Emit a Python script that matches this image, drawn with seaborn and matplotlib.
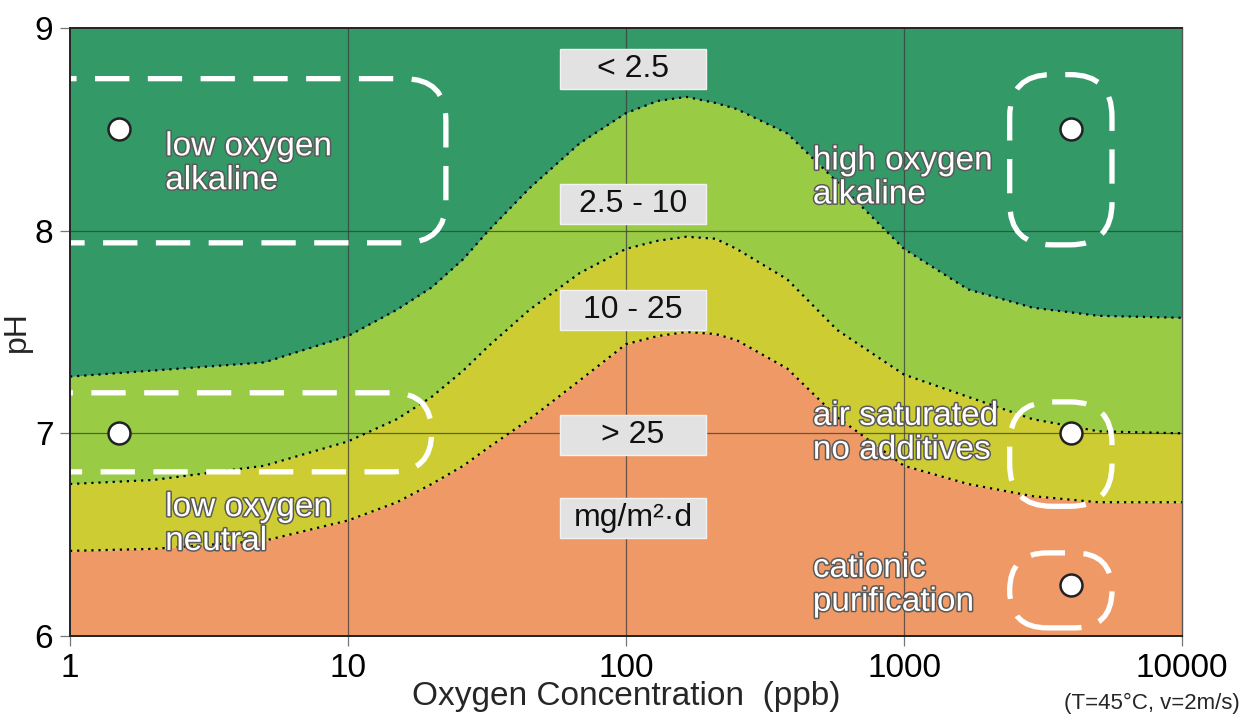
import matplotlib
matplotlib.use("Agg")
import matplotlib.pyplot as plt
import matplotlib.patheffects as pe
from matplotlib.patches import FancyBboxPatch, Rectangle
from matplotlib.transforms import IdentityTransform
from matplotlib.ticker import FixedLocator, NullLocator
import seaborn as sns

# Corrosion-rate zone boundaries (pH) versus oxygen concentration (ppb)
oxygen_ppb = [1, 2, 5, 10, 15, 20, 26, 32, 45, 68, 100, 130, 165, 210, 250, 380,
              575, 1000, 1700, 2900, 5000, 10000]
ph_low_rate = [7.28, 7.31, 7.35, 7.48, 7.61, 7.72, 7.86, 8.00, 8.21, 8.43, 8.58,
               8.64, 8.66, 8.63, 8.60, 8.48, 8.24, 7.91, 7.71, 7.62, 7.58, 7.57]
ph_mid_rate = [6.75, 6.77, 6.84, 6.96, 7.07, 7.18, 7.31, 7.43, 7.61, 7.79, 7.91,
               7.95, 7.97, 7.96, 7.91, 7.76, 7.51, 7.29, 7.18, 7.07, 7.01, 7.00]
ph_high_rate = [6.42, 6.43, 6.47, 6.57, 6.66, 6.75, 6.84, 6.93, 7.07, 7.26, 7.44,
                7.48, 7.50, 7.49, 7.46, 7.32, 7.08, 6.84, 6.75, 6.69, 6.66, 6.66]

zone_colors = ["#ef9966", "#cdcd33", "#99cc44", "#339966"]
rate_labels = ["< 2.5", "2.5 - 10", "10 - 25", "> 25", "mg/m²·d"]
rate_label_ph = [8.80, 8.13, 7.61, 6.99, 6.58]

# Operating regimes
regime_names = ["low oxygen\nalkaline", "low oxygen\nneutral", "high oxygen\nalkaline",
                "air saturated\nno additives", "cationic\npurification"]
regime_ppb = [1.5, 1.5, 4000, 4000, 4000]
regime_ph = [8.5, 7.0, 8.5, 7.0, 6.25]

x_ticks = [1, 10, 100, 1000, 10000]
y_ticks = [6, 7, 8, 9]

sns.set_theme(style="white")
plt.rcParams["font.family"] = ["Liberation Sans", "DejaVu Sans"]

fig = plt.figure(figsize=(12.48, 7.16), dpi=100)
ax = fig.add_axes([70 / 1248, 80 / 716, 1112 / 1248, 608 / 716])
ax.set_xscale("log")
ax.set_xlim(1, 10000)
ax.set_ylim(6, 9)

# filled zones
lower = [6] * len(oxygen_ppb)
upper = [9] * len(oxygen_ppb)
bands = [lower, ph_high_rate, ph_mid_rate, ph_low_rate, upper]
for i, c in enumerate(zone_colors):
    ax.fill_between(oxygen_ppb, bands[i], bands[i + 1], color=c, lw=0, zorder=1)

# grid
for xv in x_ticks[1:-1]:
    ax.axvline(xv, color="#3a3a3a", lw=0.9, alpha=0.75, zorder=2)
for yv in y_ticks[1:-1]:
    ax.axhline(yv, color="#3a3a3a", lw=0.9, alpha=0.75, zorder=2)

# dotted zone boundaries
for b in (ph_low_rate, ph_mid_rate, ph_high_rate):
    sns.lineplot(x=oxygen_ppb, y=b, ax=ax, color="black", lw=1.6,
                 linestyle=(0, (1, 2.2)), zorder=3)

# rate class labels
box_x0 = (560 - 70) / 1112
box_w = 146 / 1112
for lab, yv in zip(rate_labels, rate_label_ph):
    yf = (yv - 6) / 3
    ax.add_patch(Rectangle((box_x0, yf - 20 / 608), box_w, 40 / 608,
                           transform=ax.transAxes, facecolor="#e2e2e2",
                           edgecolor="#f2f2f2", lw=1, zorder=4))
    ax.text(box_x0 + box_w / 2, yf, lab, transform=ax.transAxes, ha="center",
            va="center", fontsize=23, color="#111111", zorder=5)

# dashed regime outlines (ppb_left, ppb_right, ph_bottom, ph_top)
outlines = [(0.6, 22.5, 7.94, 8.75), (0.6, 20, 6.81, 7.20),
            (2400, 5600, 7.93, 8.77), (2400, 5600, 6.64, 7.155),
            (2400, 5600, 6.04, 6.41)]
for x0, x1, y0, y1 in outlines:
    (px0, py0), (px1, py1) = ax.transData.transform([(x0, y0), (x1, y1)])
    w, h = px1 - px0, py1 - py0
    r = min(42, w / 2, h / 2)
    patch = FancyBboxPatch((px0, py0), w, h,
                           boxstyle=f"round,pad=0,rounding_size={r}",
                           transform=IdentityTransform(), facecolor="none",
                           edgecolor="white", lw=3.8, linestyle=(0, (6.5, 3.5)),
                           zorder=6)
    ax.add_patch(patch)

# regime markers
sns.scatterplot(x=regime_ppb, y=regime_ph, ax=ax, s=250, color="white",
                edgecolor="#222222", linewidth=1.8, zorder=8, clip_on=False)

outline = [pe.withStroke(linewidth=2.2, foreground="#5a5a5a")]
text_pos = [(2.2, 8.33), (2.2, 6.55), (470, 8.26), (470, 7.0), (470, 6.25)]
for name, (xv, yv) in zip(regime_names, text_pos):
    ax.text(xv, yv, name, ha="left", va="center", fontsize=24, color="white",
            linespacing=1.12, path_effects=outline, zorder=7)

# axes styling
ax.xaxis.set_major_locator(FixedLocator(x_ticks))
ax.xaxis.set_minor_locator(NullLocator())
ax.set_xticklabels([str(v) for v in x_ticks])
ax.set_yticks(y_ticks)
ax.set_yticklabels([str(v) for v in y_ticks])
ax.tick_params(axis="both", which="major", direction="out", length=7, width=0.9,
               color="#777777", labelsize=24, labelcolor="black", pad=5,
               bottom=True, left=True)
for s in ax.spines.values():
    s.set_color("#222222")
    s.set_linewidth(1.4)
    s.set_zorder(9)
ax.spines["right"].set_color("#555555")
ax.spines["right"].set_linewidth(1.0)

ax.set_xlabel("Oxygen Concentration  (ppb)", fontsize=24, labelpad=-2)
ax.set_ylabel("pH", fontsize=23, labelpad=2)
fig.text(1240 / 1248, 1 - 703 / 716, "(T=45°C, v=2m/s)", ha="right", va="center",
         fontsize=16)

fig.savefig("out.png", dpi=100)
